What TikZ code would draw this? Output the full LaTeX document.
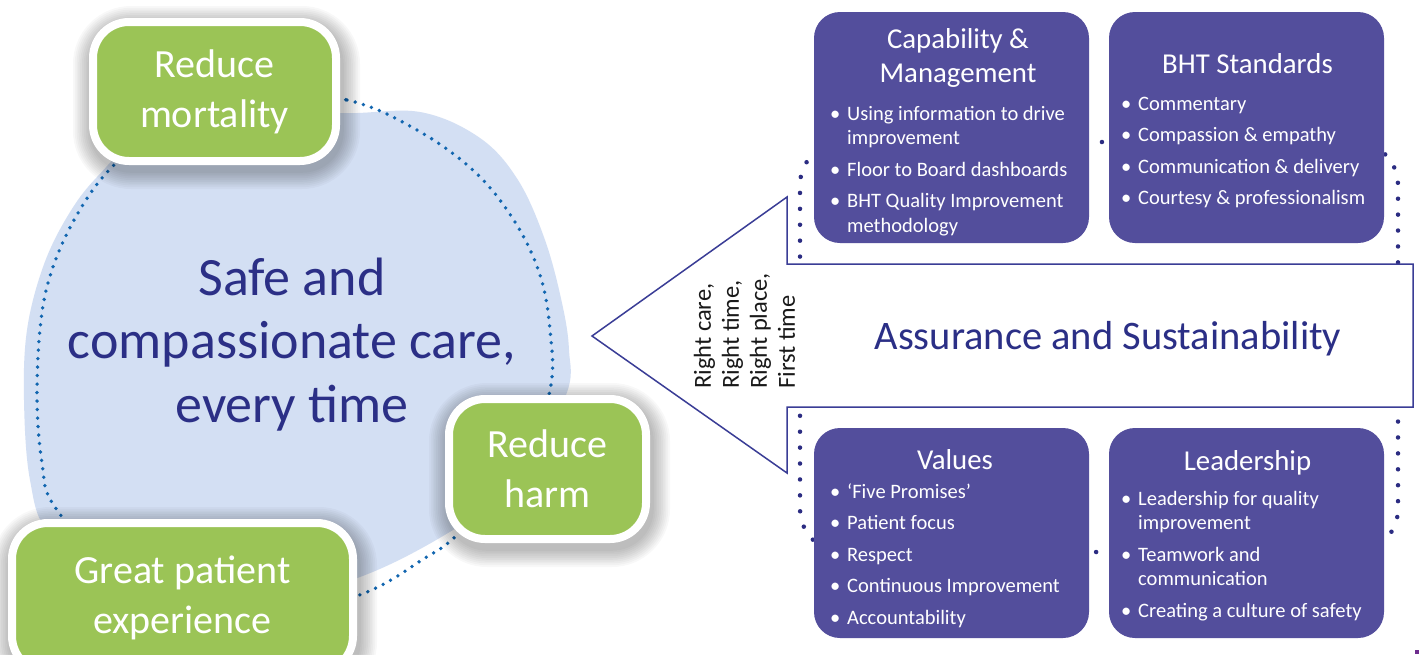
\documentclass[tikz,border=0pt]{standalone}
\usepackage{fontspec}
\setmainfont{Carlito}
\usetikzlibrary{calc}

\definecolor{leaf}{HTML}{9BC456}
\definecolor{mist}{HTML}{D3DFF3}
\definecolor{dotblue}{HTML}{1266B0}
\definecolor{navy}{HTML}{2B2F86}
\definecolor{plum}{HTML}{534E9C}
\definecolor{dotnavy}{HTML}{2B2C82}
\definecolor{edge}{HTML}{3A3D96}
\definecolor{tag}{HTML}{6E2C8E}

\pgfdeclarelayer{bg}
\pgfdeclarelayer{shade}
\pgfsetlayers{bg,shade,main}

\newcommand{\fsz}[2]{\fontsize{#1}{#2}\selectfont}
\newcommand{\topline}{\rule{0pt}{0.8em}}
\newcommand{\bul}{\makebox[17pt][l]{\textbullet}}
\newcommand{\cont}{\hspace*{17pt}}

\begin{document}
\begin{tikzpicture}[x=1pt,y=-1pt,
  goal/.style={draw=white, line width=8pt, fill=leaf, rounded corners=36pt,
    text=white, align=center, font=\fsz{40}{50}, inner sep=0pt},
  panel/.style={fill=plum, rounded corners=26pt, inner sep=0pt},
  ptitle/.style={text=white, font=\fsz{28.8}{34}, align=center, inner sep=0pt},
  pbody/.style={text=white, font=\fsz{20.5}{24.5}, align=left, inner sep=0pt, anchor=north west},
]
\useasboundingbox (0,0) rectangle (1419,654);

% ---- background: care circle and its dotted ring
\begin{pgfonlayer}{bg}
\fill[white] (0,0) rectangle (1419,654);
\fill[mist] plot[smooth cycle, tension=0.6] coordinates {
  (240,104) (340,113) (420,112) (480,138) (518,180) (545,240) (562,303)
  (569,350) (566,395) (520,480) (453,530) (360,577) (250,605) (120,590)
  (50,535) (30,480) (24,400) (27,330) (43,267) (67,217) (97,177) (150,130)};
\draw[dotblue, line width=3.8pt, line cap=round, dash pattern=on 0pt off 8.5pt]
  plot[smooth cycle, tension=0.6] coordinates {
  (250,92) (347,100) (417,130) (475,172) (515,222) (540,275) (550,330)
  (550,390) (520,475) (455,537) (425,558) (362,594) (250,625) (120,575)
  (55,507) (42,463) (37,397) (41,320) (53,267) (78,213) (112,167) (170,118)};
\end{pgfonlayer}

% ---- dotted frame around the four pillars
\draw[dotnavy, line width=4.5pt, line cap=round, dash pattern=on 0pt off 15.918pt,
  dash phase=8pt, rounded corners=43pt] (800,142) rectangle (1398,552);

% ---- arrow pointing to the care circle
\coordinate (tip) at (592,336);
\coordinate (barbT) at (787,197);
\coordinate (neckT) at (787,264);
\coordinate (endT) at (1413,264);
\coordinate (endB) at (1413,407);
\coordinate (neckB) at (787,407);
\coordinate (barbB) at (787,473);
\draw[edge, line width=1.5pt, fill=white, line join=miter]
  (tip) -- (barbT) -- (neckT) -- (endT) -- (endB) -- (neckB) -- (barbB) -- cycle;
\node[text=navy, font=\fsz{40.5}{48}, anchor=base, inner sep=0pt] (assur)
  at (1108,349) {Assurance and Sustainability};
\node[rotate=90, anchor=west, align=left, font=\fsz{24.5}{28}, inner sep=0pt,
  text=black!90] (rightly) at (744.5,389)
  {Right care,\\Right time,\\Right place,\\First time};

% ---- four pillars
\node[panel, minimum width=275pt, minimum height=231pt] (cap) at (951.5,127.5) {};
\node[panel, minimum width=275pt, minimum height=231pt] (bht) at (1246.5,127.5) {};
\node[panel, minimum width=275pt, minimum height=210pt] (val) at (951.5,533) {};
\node[panel, minimum width=275pt, minimum height=210pt] (lead) at (1246.5,533) {};

\node[ptitle, anchor=north] (capT) at (958,25) {\topline Capability \&\\Management};
\node[ptitle, anchor=base] (bhtT) at (1247.5,73) {BHT Standards};
\node[ptitle, anchor=base] (valT) at (955,469) {Values};
\node[ptitle, anchor=base] (leadT) at (1247.5,470) {Leadership};

\node[pbody] (capB) at (830,103.6) {\topline\bul Using information to drive\\
  \cont improvement\\[7pt]
  \bul Floor to Board dashboards\\[7pt]
  \bul BHT Quality Improvement\\
  \cont methodology};
\node[pbody] (bhtB) at (1121,93.6) {\topline\bul Commentary\\[7pt]
  \bul Compassion \& empathy\\[7pt]
  \bul Communication \& delivery\\[7pt]
  \bul Courtesy \& professionalism};
\node[pbody] (valB) at (830,481.6) {\topline\bul ‘Five Promises’\\[7pt]
  \bul Patient focus\\[7pt]
  \bul Respect\\[7pt]
  \bul Continuous Improvement\\[7pt]
  \bul Accountability};
\node[pbody] (leadB) at (1121,488.6) {\topline\bul Leadership for quality\\
  \cont improvement\\[7pt]
  \bul Teamwork and\\
  \cont communication\\[7pt]
  \bul Creating a culture of safety};

% ---- centre statement
\node[text=navy, font=\fsz{54}{63.5}, align=center, inner sep=0pt, anchor=north]
  (vision) at (292,251.8) {\topline Safe and\\compassionate care,\\every time};

% ---- the three goals
\node[goal, minimum width=243pt, minimum height=139pt] (mort) at (214.5,91.5)
  {Reduce\\mortality};
\node[goal, minimum width=197pt, minimum height=140pt] (harm) at (547.5,469)
  {Reduce\\harm};
\node[goal, minimum width=341pt, minimum height=149pt] (exper) at (182.5,597.5)
  {Great patient\\experience};

% soft shadows under the goals
\begin{pgfonlayer}{shade}
\foreach \g in {mort,harm,exper}{
  \foreach \k in {1,...,10}{
    \pgfmathsetmacro\d{1.8*\k}
    \pgfmathsetmacro\rr{40+\d}
    \fill[black, opacity=0.026, rounded corners=\rr pt]
      ($(\g.north west)+(-\d+2,-\d+6)$) rectangle ($(\g.south east)+(\d+2,\d+6)$);
  }
}
\end{pgfonlayer}

% corner mark
\fill[tag] (1415,650) rectangle (1419,654);
\end{tikzpicture}
\end{document}
